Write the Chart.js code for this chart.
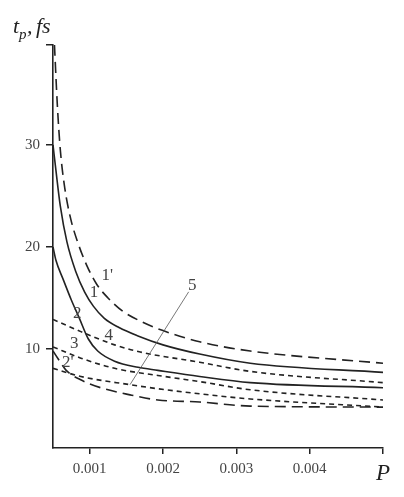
<!DOCTYPE html>
<html>
<head>
<meta charset="utf-8">
<script src="https://cdn.jsdelivr.net/npm/chart.js@4/dist/chart.umd.min.js"></script>
<style>
html,body{margin:0;padding:0;background:#fff;}
#wrap{width:404px;height:497px;position:relative;}
</style>
</head>
<body>
<div id="wrap"><canvas id="c" width="404" height="497"></canvas></div>
<script>
// ---- data ----
const xTicks = [0.001, 0.002, 0.003, 0.004, 0.005];
const xTickLabels = ['0.001', '0.002', '0.003', '0.004', 'P'];
const yTicks = [10, 20, 30, 39.8];
const yTickLabels = ['10', '20', '30', ''];

const p1s = [0.00052, 0.00056, 0.0006, 0.00066, 0.00074, 0.00084, 0.00096, 0.0011, 0.00125, 0.00145, 0.0017, 0.002, 0.0025, 0.00319, 0.005];
const v1s = [39.8, 33.8, 29.5, 25.8, 22.8, 20.4, 18.2, 16.3, 15.0, 13.7, 12.7, 11.8, 10.7, 9.8, 8.6];

const p1 = [0.0005, 0.00054, 0.0006, 0.00069, 0.00081, 0.00093, 0.00105, 0.0012, 0.0014, 0.00165, 0.002, 0.0025, 0.00319, 0.005];
const v1 = [30, 27.5, 24.0, 20.5, 17.6, 15.6, 14.2, 13.0, 12.1, 11.3, 10.4, 9.5, 8.6, 7.7];

const p2 = [0.0005, 0.00054, 0.00064, 0.00075, 0.00086, 0.00098, 0.00111, 0.00134, 0.00166, 0.00193, 0.0025, 0.00319, 0.005];
const v2 = [20, 18.7, 16.8, 14.8, 13.0, 11.0, 9.8, 8.8, 8.2, 7.9, 7.3, 6.7, 6.2];

const p4 = [0.0005, 0.00088, 0.00134, 0.00169, 0.0025, 0.00319, 0.005];
const v4 = [12.9, 11.7, 10.4, 9.7, 8.7, 7.8, 6.7];

const p3 = [0.0005, 0.00088, 0.00134, 0.00193, 0.0025, 0.00319, 0.005];
const v3 = [10.2, 9.1, 8.1, 7.4, 6.8, 6.0, 5.0];

const p5 = [0.0005, 0.00088, 0.00155, 0.00193, 0.0025, 0.00319, 0.005];
const v5 = [8.1, 7.3, 6.5, 6.1, 5.6, 5.1, 4.3];

const p2s = [0.0005, 0.00061, 0.00068, 0.00087, 0.00115, 0.00155, 0.00193, 0.0025, 0.00319, 0.005];
const v2s = [9.8, 8.6, 7.9, 7.0, 6.2, 5.5, 5.0, 4.8, 4.4, 4.3];

// curve labels (data coordinates)
const curveLabels = ["1'", "1", "2", "4", "3", "2'", "5"];
const labelP = [0.00124, 0.00106, 0.00083, 0.00126, 0.00079, 0.0007, 0.0024];
const labelV = [17.2, 15.5, 13.5, 11.3, 10.5, 8.7, 16.2];
// pointer for label 5
const pointerP = [0.00235, 0.00155];
const pointerV = [15.6, 6.5];

const ink = '#222';
const LONG = [11, 6];
const SHORT = [5, 4];

function pts(px, vy){ return px.map((p,i)=>({x:p, y:vy[i]})); }
function ds(px, vy, dash){
  return {data: pts(px, vy), borderColor: ink, borderWidth: 1.6, borderDash: dash,
          pointRadius: 0, fill:false, cubicInterpolationMode:'monotone'};
}

const serif = "'Liberation Serif', 'DejaVu Serif', serif";

const annot = {
  id: 'annot',
  afterDraw(chart){
    const ctx = chart.ctx, xs = chart.scales.x, ys = chart.scales.y;
    ctx.save();
    ctx.fillStyle = '#444';
    ctx.font = '17px ' + serif;
    ctx.textAlign = 'center';
    ctx.textBaseline = 'middle';
    curveLabels.forEach((t,i)=>{
      ctx.fillText(t, xs.getPixelForValue(labelP[i]), ys.getPixelForValue(labelV[i]));
    });
    ctx.strokeStyle = '#555';
    ctx.lineWidth = 0.8;
    ctx.beginPath();
    ctx.moveTo(xs.getPixelForValue(pointerP[0]), ys.getPixelForValue(pointerV[0]));
    ctx.lineTo(xs.getPixelForValue(pointerP[1]), ys.getPixelForValue(pointerV[1]));
    ctx.stroke();
    // axis title t_p, fs
    ctx.fillStyle = '#222';
    ctx.textAlign = 'left';
    ctx.textBaseline = 'alphabetic';
    ctx.font = 'italic 22px ' + serif;
    ctx.fillText('t', 13, 33);
    ctx.font = 'italic 15px ' + serif;
    ctx.fillText('p', 19, 39);
    ctx.font = 'italic 22px ' + serif;
    ctx.fillText(',', 27, 33);
    ctx.fillText('fs', 36, 33);
    ctx.restore();
  }
};

new Chart(document.getElementById('c'), {
  type: 'line',
  data: { datasets: [
    ds(p1s, v1s, LONG),
    ds(p1, v1, []),
    ds(p4, v4, SHORT),
    ds(p2, v2, []),
    ds(p3, v3, SHORT),
    ds(p5, v5, SHORT),
    ds(p2s, v2s, LONG)
  ]},
  options: {
    responsive: false,
    animation: false,
    layout: { padding: { top: 45, right: 21, left: 0, bottom: 0 } },
    plugins: { legend: {display:false}, tooltip: {enabled:false} },
    scales: {
      x: {
        type: 'linear', min: 0.0005, max: 0.005,
        afterBuildTicks: s => { s.ticks = xTicks.map(v=>({value:v})); },
        afterFit: s => { s.height = 49; },
        grid: { display: true, drawOnChartArea: false, drawTicks: true, tickLength: 6, color: ink, lineWidth: 1.5 },
        border: { display: true, color: ink, width: 1.6 },
        ticks: {
          autoSkip: false, maxRotation: 0, padding: 6,
          color: c => c.index === 4 ? '#222' : '#444',
          font: c => c.index === 4 ? {family: serif, size: 23, style: 'italic'} : {family: serif, size: 15},
          callback: (v, i) => xTickLabels[i]
        }
      },
      y: {
        type: 'linear', min: 0.29, max: 39.8,
        afterBuildTicks: s => { s.ticks = yTicks.map(v=>({value:v})); },
        afterFit: s => { s.width = 53; },
        grid: { display: true, drawOnChartArea: false, drawTicks: true, tickLength: 7, color: ink, lineWidth: 1.5 },
        border: { display: true, color: ink, width: 1.6 },
        ticks: {
          autoSkip: false, padding: 6, color: '#444',
          font: {family: serif, size: 15},
          callback: (v, i) => yTickLabels[i]
        }
      }
    }
  },
  plugins: [annot]
});
</script>
</body>
</html>
